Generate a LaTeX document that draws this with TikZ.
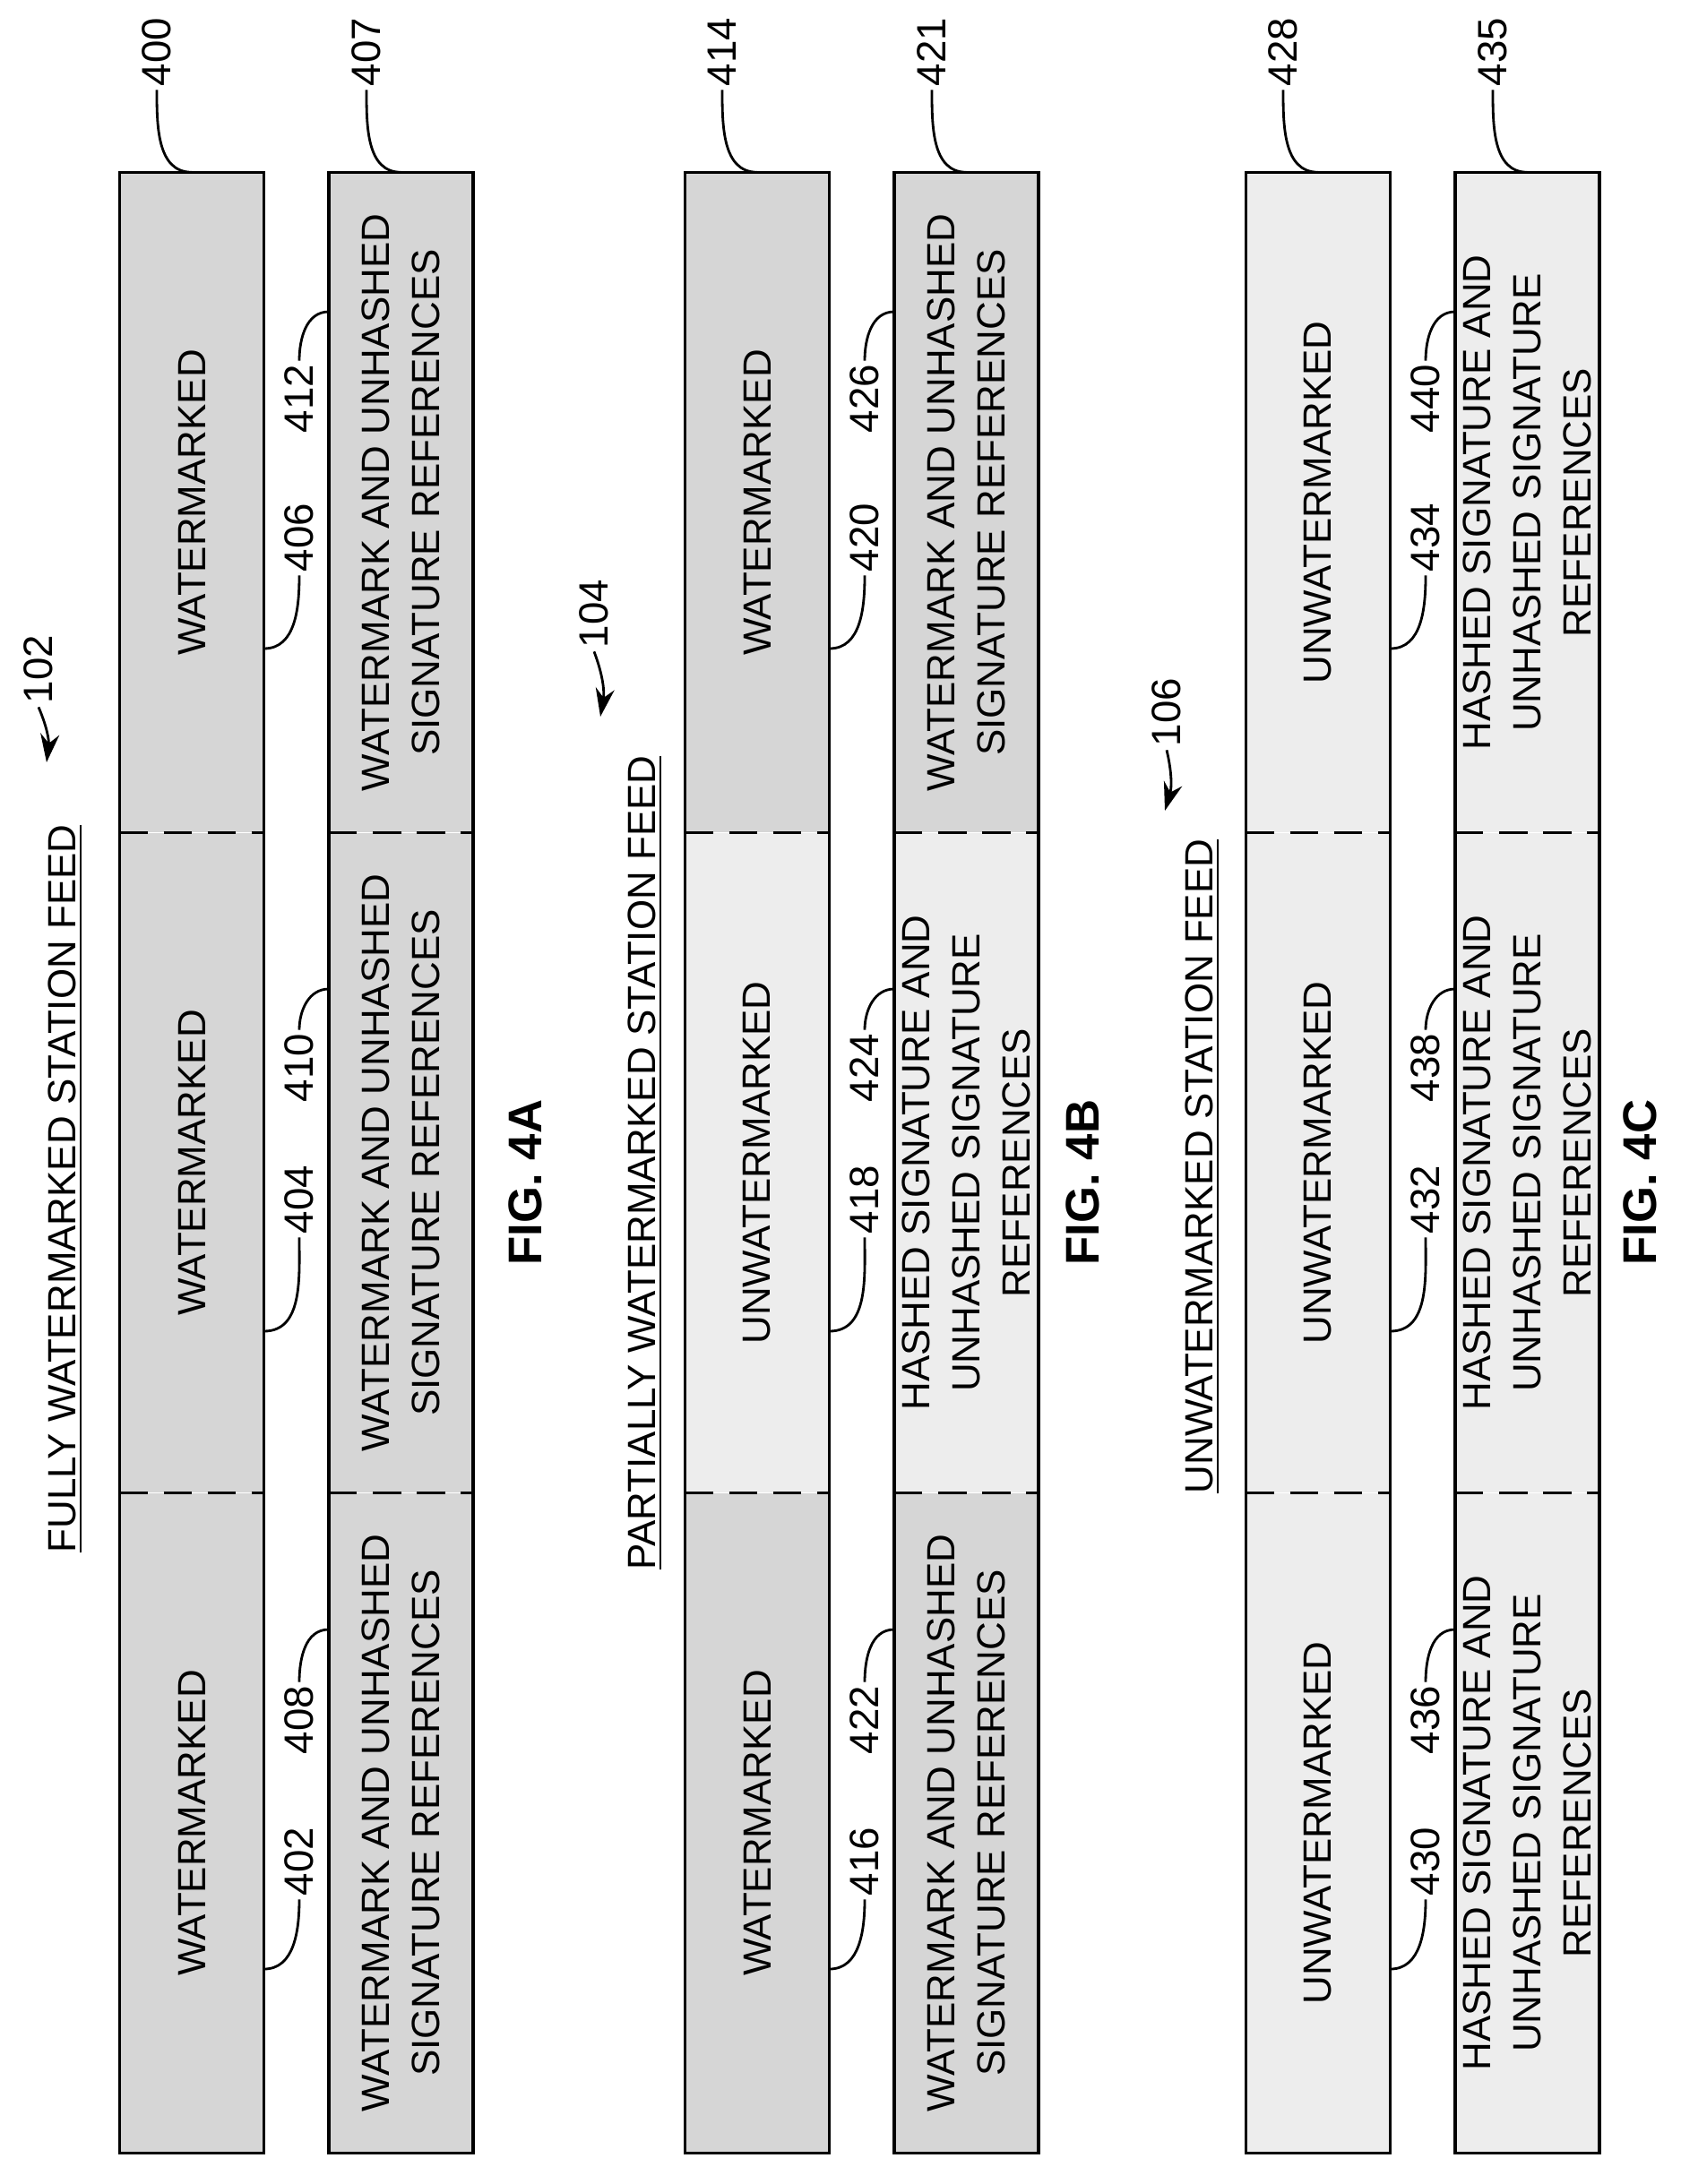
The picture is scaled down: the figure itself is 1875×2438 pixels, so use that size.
\documentclass[tikz,border=0pt]{standalone}
\usepackage{fontspec}
\setmainfont{Liberation Sans}
\usetikzlibrary{arrows.meta}
\usetikzlibrary{positioning}

\tikzset{
  seg/.style={rotate=90, minimum width=73.6mm, minimum height=16mm, inner sep=0pt,
    align=center, font=\fontsize{12.5}{16}\selectfont},
  wm/.style={seg, fill=black!16},
  uwm/.style={seg, fill=black!7},
  bar/.style={draw, line width=1pt},
  divider/.style={draw, line width=0.8pt, dash pattern=on 9pt off 5pt},
  num/.style={rotate=90, inner sep=1pt, font=\fontsize{13}{15}\selectfont},
  lead/.style={line width=0.8pt},
  feed/.style={rotate=90, inner sep=1pt, font=\fontsize{12.5}{15}\selectfont},
  fig/.style={rotate=90, inner sep=1pt, font=\fontsize{15}{18}\selectfont\bfseries}
}

\newcommand{\wmref}{WATERMARK AND UNHASHED\\SIGNATURE REFERENCES}
\newcommand{\hashref}{HASHED SIGNATURE AND\\UNHASHED SIGNATURE\\REFERENCES}

\begin{document}
\begin{tikzpicture}[x=0.1mm, y=0.1mm]
  \useasboundingbox (0,0) rectangle (1875,-2438);

  % FIG. 4A
  \node[wm] (s402) at (214,-2035) {WATERMARKED};
  \node[wm] (s404) at (214,-1298) {WATERMARKED};
  \node[wm] (s406) at (214,-561) {WATERMARKED};
  \node[wm] (s408) at (447.5,-2035) {\wmref};
  \node[wm] (s410) at (447.5,-1298) {\wmref};
  \node[wm] (s412) at (447.5,-561) {\wmref};

  % FIG. 4B
  \node[wm] (s416) at (845,-2035) {WATERMARKED};
  \node[uwm] (s418) at (845,-1298) {UNWATERMARKED};
  \node[wm] (s420) at (845,-561) {WATERMARKED};
  \node[wm] (s422) at (1078.5,-2035) {\wmref};
  \node[uwm] (s424) at (1078.5,-1298) {\hashref};
  \node[wm] (s426) at (1078.5,-561) {\wmref};

  % FIG. 4C
  \node[uwm] (s430) at (1471,-2035) {UNWATERMARKED};
  \node[uwm] (s432) at (1471,-1298) {UNWATERMARKED};
  \node[uwm] (s434) at (1471,-561) {UNWATERMARKED};
  \node[uwm] (s436) at (1704.5,-2035) {\hashref};
  \node[uwm] (s438) at (1704.5,-1298) {\hashref};
  \node[uwm] (s440) at (1704.5,-561) {\hashref};

  % bar outlines and dashed dividers
  \foreach \lo/\mi/\hi in {402/404/406, 408/410/412, 416/418/420, 422/424/426, 430/432/434, 436/438/440} {
    \draw[divider] (s\lo.north east) -- (s\lo.south east);
    \draw[divider] (s\mi.north east) -- (s\mi.south east);
    \draw[bar] (s\lo.north west) rectangle (s\hi.south east);
  }

  % titles
  \node[feed] (t102) at (73,-1327) {\underline{FULLY WATERMARKED STATION FEED}};
  \node[feed] (t104) at (720,-1298) {\underline{PARTIALLY WATERMARKED STATION FEED}};
  \node[feed] (t106) at (1342,-1302) {\underline{UNWATERMARKED STATION FEED}};
  \node[num] (l102) at (43,-747) {102};
  \node[num] (l104) at (663,-685) {104};
  \node[num] (l106) at (1302,-795) {106};
  \coordinate (a102) at (52,-851);
  \coordinate (a104) at (670,-800);
  \coordinate (a106) at (1300,-905);
  \draw[lead, -{Stealth[length=9pt, width=6pt]}] (l102.west) to[bend left=15] (a102);
  \draw[lead, -{Stealth[length=9pt, width=6pt]}] (l104.west) to[bend left=15] (a104);
  \draw[lead, -{Stealth[length=9pt, width=6pt]}] (l106.west) to[bend left=15] (a106);

  \node[fig] (f4a) at (586,-1320) {FIG. 4A};
  \node[fig] (f4b) at (1208,-1320) {FIG. 4B};
  \node[fig] (f4c) at (1830,-1320) {FIG. 4C};

  % top reference numbers
  \foreach \n/\x/\s in {400/175/406, 407/409/412, 414/806/420, 421/1040/426, 428/1432/434, 435/1666/440} {
    \node[num] (l\n) at (\x,-58) {\n};
    \draw[lead] (l\n.west) to[out=-90, in=180] (s\s.east);
  }

  % reference numbers beside the first bar
  \foreach \x/\a/\b/\c in {334/402/404/406, 965/416/418/420, 1591/430/432/434} {
    \node[num] (l\a) at (\x,-2078) {\a};
    \node[num] (l\b) at (\x,-1339) {\b};
    \node[num] (l\c) at (\x,-600) {\c};
    \draw[lead] (l\a.west) to[out=-90, in=0] ([yshift=-16.3mm]s\a.south);
    \draw[lead] (l\b.west) to[out=-90, in=0] ([yshift=-18.8mm]s\b.south);
    \draw[lead] (l\c.west) to[out=-90, in=0] ([yshift=-16.3mm]s\c.south);
  }

  % reference numbers beside the second bar
  \foreach \x/\a/\b/\c in {334/408/410/412, 965/422/424/426, 1591/436/438/440} {
    \node[num] (l\a) at (\x,-1920) {\a};
    \node[num] (l\b) at (\x,-1192) {\b};
    \node[num] (l\c) at (\x,-445) {\c};
    \draw[lead] (l\a.east) to[out=90, in=180] ([yshift=21.6mm]s\a.north);
    \draw[lead] (l\b.east) to[out=90, in=180] ([yshift=19.4mm]s\b.north);
    \draw[lead] (l\c.east) to[out=90, in=180] ([yshift=21.3mm]s\c.north);
  }
\end{tikzpicture}
\end{document}
